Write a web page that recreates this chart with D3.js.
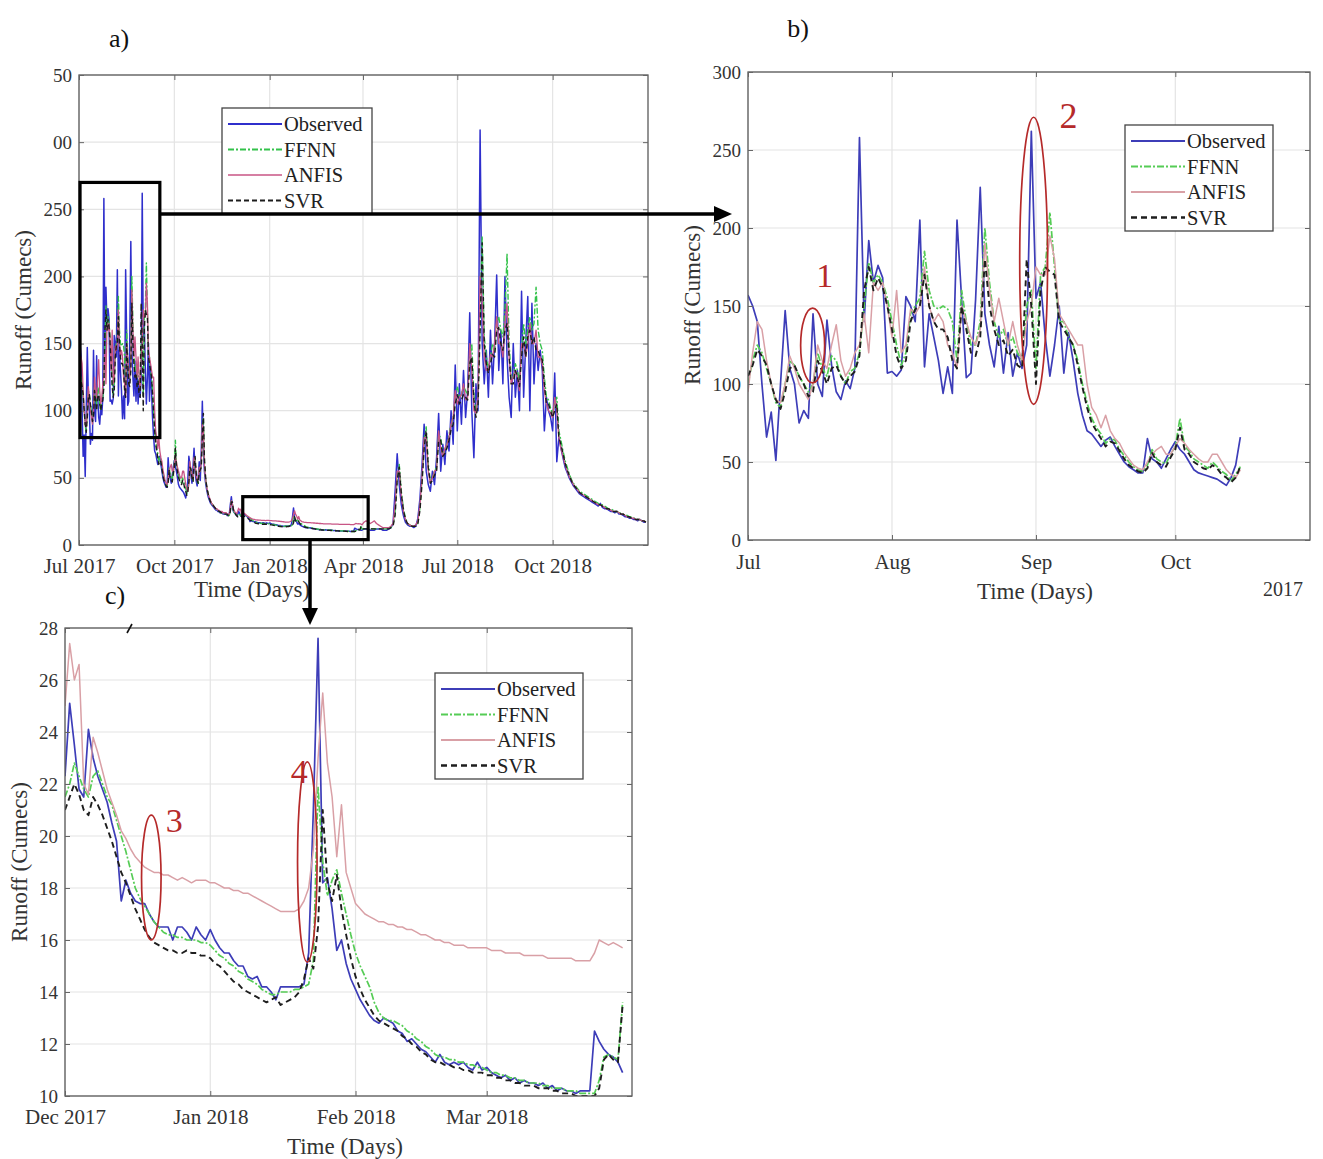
<!DOCTYPE html>
<html><head><meta charset="utf-8">
<script src="https://cdn.jsdelivr.net/npm/d3@7"></script>
<style>
body{margin:0;background:#fff}
svg{display:block}
text{font-family:"Liberation Serif","Times New Roman",serif}
</style>
</head><body>
<svg id="chart" width="1323" height="1159"></svg>
<script>
// ---------------- DATA ----------------
const seriesNames = ["Observed","FFNN","ANFIS","SVR"];

// Panel b: daily from 1 Jul 2017
const bObs = [157,150,140,100,66,82,51,100,147,110,100,75,83,78,145,100,92,141,112,95,90,102,97,110,258,140,192,165,176,168,107,108,105,109,156,150,140,205,111,145,130,115,94,111,94,205,154,104,107,154,226,145,125,111,137,107,133,105,120,110,125,262,155,165,130,105,125,150,107,133,115,94,80,70,68,64,60,64,66,60,55,50,47,45,43,43,65,52,50,46,52,58,63,58,55,50,45,43,42,41,40,39,37,35,40,48,66];
const bFFNN = [100,115,125,120,110,100,88,85,100,115,112,105,100,95,100,120,110,105,118,115,105,100,108,110,120,150,178,165,170,165,155,140,125,112,120,145,150,155,185,160,150,148,150,148,140,115,160,140,125,125,140,200,165,140,130,135,125,130,120,115,150,160,110,170,175,210,175,140,140,130,125,115,100,88,78,72,68,62,65,64,58,54,50,47,45,44,48,58,52,50,49,55,60,78,60,57,52,50,48,46,50,47,44,42,38,42,47];
const bANFIS = [95,120,140,135,115,100,90,88,100,118,110,100,95,90,100,125,115,110,125,138,115,105,110,120,125,145,120,165,160,165,150,130,160,120,125,148,145,150,175,150,140,145,140,125,120,110,150,140,130,125,135,190,160,140,155,140,125,140,125,115,140,150,175,170,170,195,180,145,140,135,130,125,125,100,85,80,72,80,70,65,62,56,52,48,46,45,50,55,58,60,55,55,60,65,62,58,55,52,50,50,55,55,50,45,42,40,45];
const bSVR = [105,112,122,118,112,100,90,84,95,110,112,105,100,92,95,115,108,100,110,112,105,100,105,108,118,160,175,160,168,162,150,135,118,110,115,140,148,150,170,150,140,135,135,130,115,110,150,135,120,118,130,180,150,135,125,128,118,122,112,110,180,150,100,160,175,172,170,140,135,130,125,112,98,85,75,70,65,60,63,62,57,52,48,46,44,43,46,56,50,48,47,53,58,72,58,55,50,48,46,45,48,46,42,40,37,40,47];

// Panel c: daily from 1 Dec 2017
const cObs = [22.3,25.1,23.5,21.8,21.5,24.1,23.0,22.3,21.8,21.3,20.5,19.8,17.5,18.3,17.8,17.5,17.4,17.4,17.0,16.7,16.5,16.5,16.5,16.0,16.5,16.5,16.3,16.0,16.5,16.2,16.0,16.4,16.0,15.7,15.5,15.5,15.2,15.0,15.0,14.6,14.5,14.6,14.2,14.2,14.0,13.7,14.2,14.2,14.2,14.2,14.2,14.3,15.5,21.0,27.6,18.2,18.4,17.2,15.6,16.0,15.1,14.5,14.1,13.7,13.4,13.1,12.9,12.8,13.0,12.9,12.8,12.5,12.4,12.1,12.2,12.0,11.8,11.7,11.5,11.3,11.6,11.3,11.2,11.3,11.2,11.3,11.1,11.0,11.3,11.0,11.1,10.9,10.8,10.7,10.8,10.6,10.7,10.5,10.6,10.5,10.5,10.4,10.5,10.3,10.4,10.2,10.3,10.2,10.2,10.1,10.2,10.2,10.2,12.5,12.1,11.8,11.6,11.5,11.3,10.9];
const cFFNN = [21.5,22.0,22.8,22.3,21.8,21.5,22.3,22.5,22.0,21.5,21.2,20.6,20.0,19.4,18.7,18.0,17.6,17.3,17.0,16.7,16.5,16.3,16.2,16.2,16.1,16.1,16.0,16.0,16.0,15.9,15.9,15.8,15.6,15.4,15.3,15.1,15.0,14.8,14.7,14.5,14.4,14.3,14.1,14.0,13.9,13.9,14.0,14.0,14.0,14.1,14.1,14.2,14.3,15.2,21.9,19.0,17.7,18.3,18.7,17.8,17.0,16.2,15.5,15.0,14.6,14.2,13.6,13.2,13.0,12.9,12.9,12.8,12.7,12.5,12.4,12.2,12.1,11.9,11.8,11.6,11.5,11.5,11.4,11.4,11.3,11.3,11.2,11.2,11.1,11.1,11.0,10.9,10.9,10.8,10.8,10.7,10.7,10.6,10.6,10.5,10.5,10.5,10.4,10.4,10.3,10.3,10.3,10.2,10.2,10.2,10.1,10.1,10.1,10.1,10.6,11.5,11.6,11.5,11.4,13.6];
const cANFIS = [25.0,27.4,26.0,26.6,22.0,21.6,23.8,23.2,22.5,21.8,21.3,20.8,20.2,19.9,19.5,19.2,19.0,18.8,18.7,18.6,18.6,18.5,18.5,18.4,18.3,18.4,18.3,18.2,18.3,18.3,18.3,18.2,18.2,18.1,18.0,18.0,17.9,17.9,17.8,17.8,17.7,17.6,17.5,17.4,17.3,17.2,17.1,17.1,17.1,17.1,17.2,17.5,18.0,19.5,23.0,25.5,22.8,21.5,19.2,21.2,18.6,18.0,17.4,17.2,17.0,16.9,16.8,16.7,16.7,16.6,16.6,16.5,16.5,16.4,16.4,16.3,16.2,16.2,16.1,16.0,16.0,15.9,15.9,15.8,15.8,15.8,15.7,15.7,15.7,15.7,15.7,15.6,15.6,15.6,15.5,15.5,15.5,15.5,15.4,15.4,15.4,15.4,15.4,15.3,15.3,15.3,15.3,15.3,15.3,15.2,15.2,15.2,15.2,15.5,16.0,15.9,15.8,15.9,15.8,15.7];
const cSVR = [21.0,21.5,22.0,21.6,21.0,20.8,21.5,21.2,20.8,20.3,19.8,19.2,18.6,18.2,17.7,17.2,16.8,16.4,16.1,15.9,15.8,15.7,15.6,15.6,15.5,15.5,15.6,15.5,15.5,15.4,15.4,15.3,15.1,15.0,14.8,14.6,14.4,14.3,14.1,14.0,13.9,13.8,13.7,13.6,13.7,13.8,13.5,13.6,13.7,13.8,14.0,14.5,15.3,14.9,16.5,21.0,18.2,17.5,18.5,17.2,16.2,15.3,14.6,14.1,13.7,13.4,13.1,12.9,12.8,12.7,12.6,12.5,12.3,12.2,12.0,11.9,11.7,11.6,11.4,11.3,11.3,11.2,11.2,11.1,11.1,11.0,11.0,10.9,10.9,10.9,10.8,10.8,10.7,10.7,10.6,10.6,10.5,10.5,10.4,10.4,10.4,10.3,10.3,10.3,10.2,10.2,10.1,10.1,10.1,10.0,10.0,10.0,10.0,10.0,10.3,11.4,11.6,11.4,11.3,13.5];

// Panel a extra segment 1: daily from 16 Oct 2017 to 30 Nov 2017
const aObs1 = [60,52,46,58,72,55,48,44,50,62,48,70,107,72,55,47,42,38,35,33,31,30,29,28,27,26,26,25,25,24,24,24,23,23,23,23,22,22,23,30,36,28,25,24,23,22];
const aFFNN1 = [55,58,50,48,62,65,52,47,46,56,55,60,88,95,62,50,44,40,37,34,32,31,30,29,28,27,26,26,25,25,24,24,24,23,23,23,23,22,22,26,33,31,26,24,23,23];
const aANFIS1 = [62,56,50,50,65,62,52,48,48,58,55,62,90,85,60,50,45,40,37,35,33,31,30,29,28,27,27,26,26,25,25,25,24,24,24,24,23,23,23,27,33,30,27,25,24,23];
const aSVR1 = [58,56,50,47,60,66,54,48,46,54,56,58,80,98,65,52,45,40,37,34,32,31,30,29,28,27,26,26,25,25,24,24,24,23,23,23,23,22,22,25,32,32,26,24,23,22];

// Panel a extra segment 2: every 2nd day from 31 Mar 2018
const aObs2 = [11,12,12,12,11,11,11,12,12,12,11,11,11,12,13,16,40,68,45,30,22,17,15,14,14,13,14,20,35,60,90,55,45,40,55,45,65,98,55,75,60,85,70,100,75,134,85,120,90,130,95,115,173,100,65,120,100,309,150,120,145,110,160,120,150,201,130,160,120,200,140,110,95,150,110,130,100,189,110,150,185,100,180,120,150,130,145,130,85,110,100,95,85,128,62,80,72,65,58,54,50,47,44,42,40,38,37,36,35,34,33,32,31,30,29,31,28,27,27,26,25,25,24,25,23,23,22,21,21,20,20,19,19,18,19,18,17,17];
const aFFNN2 = [12,12,12,12,12,12,12,12,12,12,12,12,12,13,13,15,25,50,60,40,27,20,16,15,14,14,14,17,28,50,78,88,60,48,50,55,58,82,80,68,70,75,82,90,95,112,118,110,112,118,115,112,140,150,112,98,108,165,230,155,140,132,140,150,145,165,170,160,155,175,217,150,125,125,135,130,122,145,165,150,160,170,160,165,192,160,150,145,125,110,108,102,98,105,110,85,78,70,63,58,53,49,46,44,42,40,39,38,37,36,35,34,33,32,31,30,30,29,28,27,27,26,25,25,24,24,23,22,22,21,21,20,20,19,19,18,18,17];
const aANFIS2 = [15,17,18,17,16,17,18,16,15,14,13,13,13,13,14,16,30,55,55,36,25,19,16,15,14,14,15,18,30,52,80,80,55,46,50,55,56,85,72,66,72,75,80,90,95,115,105,110,112,120,108,110,150,130,100,98,110,200,180,140,130,130,142,140,150,170,150,150,140,165,180,140,120,125,130,125,115,150,150,140,150,165,150,150,160,140,140,135,115,105,100,98,95,110,100,80,72,66,60,55,51,48,45,43,41,39,38,37,36,35,34,33,32,31,30,30,29,28,27,27,26,25,25,25,24,23,23,22,21,21,20,20,19,19,19,18,18,17];
const aSVR2 = [12,12,12,12,12,12,12,12,12,12,12,12,12,12,13,14,22,48,58,38,26,19,16,15,14,14,14,16,26,46,72,85,58,46,48,52,55,78,78,66,68,72,78,86,90,105,112,105,108,112,110,108,135,140,108,95,104,160,225,150,135,128,135,142,140,160,162,150,145,160,165,140,120,120,130,125,118,140,155,140,155,160,150,155,145,145,140,138,120,105,105,100,95,100,105,80,75,68,61,56,52,48,45,43,41,39,38,37,36,35,34,33,32,31,30,30,29,28,27,27,26,25,25,25,24,23,23,22,21,21,20,20,19,19,19,18,18,17];

// Tick labels
const aYTicks = [0,50,100,150,200,250,300,350];
const aYTickLabels = ["0","50","100","150","200","250","00","50"];
const aXTickLabels = ["Jul 2017","Oct 2017","Jan 2018","Apr 2018","Jul 2018","Oct 2018"];
const bYTicks = [0,50,100,150,200,250,300];
const bYTickLabels = ["0","50","100","150","200","250","300"];
const bXTickLabels = ["Jul","Aug","Sep","Oct"];
const cYTicks = [10,12,14,16,18,20,22,24,26,28];
const cYTickLabels = ["10","12","14","16","18","20","22","24","26","28"];
const cXTickLabels = ["Dec 2017","Jan 2018","Feb 2018","Mar 2018"];

// ---------------- HELPERS ----------------
const D = (y,m,d) => new Date(Date.UTC(y,m-1,d));
const seg = (vals, start, step) => vals.map((v,i)=>({t:d3.utcDay.offset(start,i*step), v}));
const bStart = D(2017,7,1), a1Start = D(2017,10,16), cStart = D(2017,12,1), a2Start = D(2018,3,31);

const panelAData = {
  Observed: [...seg(bObs,bStart,1),...seg(aObs1,a1Start,1),...seg(cObs,cStart,1),...seg(aObs2,a2Start,2)],
  FFNN: [...seg(bFFNN,bStart,1),...seg(aFFNN1,a1Start,1),...seg(cFFNN,cStart,1),...seg(aFFNN2,a2Start,2)],
  ANFIS: [...seg(bANFIS,bStart,1),...seg(aANFIS1,a1Start,1),...seg(cANFIS,cStart,1),...seg(aANFIS2,a2Start,2)],
  SVR: [...seg(bSVR,bStart,1),...seg(aSVR1,a1Start,1),...seg(cSVR,cStart,1),...seg(aSVR2,a2Start,2)]
};
const panelBData = {Observed:seg(bObs,bStart,1),FFNN:seg(bFFNN,bStart,1),ANFIS:seg(bANFIS,bStart,1),SVR:seg(bSVR,bStart,1)};
const panelCData = {Observed:seg(cObs,cStart,1),FFNN:seg(cFFNN,cStart,1),ANFIS:seg(cANFIS,cStart,1),SVR:seg(cSVR,cStart,1)};

const styleA = {
  Observed:{stroke:"#2f2fcc",w:1.5,dash:null},
  FFNN:{stroke:"#33c24a",w:1.4,dash:"6,2,2,2"},
  ANFIS:{stroke:"#c85585",w:1.3,dash:null},
  SVR:{stroke:"#1c1c1c",w:1.4,dash:"5,3"}
};
const styleBC = {
  Observed:{stroke:"#3d3db8",w:1.7,dash:null},
  FFNN:{stroke:"#55cc55",w:1.7,dash:"7,2,2,2"},
  ANFIS:{stroke:"#d9a0a6",w:1.5,dash:null},
  SVR:{stroke:"#1e1e1e",w:1.9,dash:"6,4"}
};

const svg = d3.select("#chart");
const FONT = '"Liberation Serif","Times New Roman",serif';
const TXT = "#333";

function drawPanel(cfg){
  const g = svg.append("g");
  const x = d3.scaleUtc().domain(cfg.xDomain).range([cfg.left,cfg.right]);
  const y = d3.scaleLinear().domain(cfg.yDomain).range([cfg.bottom,cfg.top]);
  g.append("g").selectAll("line").data(cfg.yTicks).join("line")
    .attr("x1",cfg.left).attr("x2",cfg.right).attr("y1",d=>y(d)).attr("y2",d=>y(d))
    .attr("stroke","#e4e4e4").attr("stroke-width",1.2);
  g.append("g").selectAll("line").data(cfg.xTicks).join("line")
    .attr("y1",cfg.top).attr("y2",cfg.bottom).attr("x1",d=>x(d)).attr("x2",d=>x(d))
    .attr("stroke","#e4e4e4").attr("stroke-width",1.2);
  const cid = "clip-"+cfg.id;
  svg.append("clipPath").attr("id",cid).append("rect")
    .attr("x",cfg.left).attr("y",cfg.top).attr("width",cfg.right-cfg.left).attr("height",cfg.bottom-cfg.top);
  const line = d3.line().x(d=>x(d.t)).y(d=>y(d.v));
  const lg = g.append("g").attr("clip-path",`url(#${cid})`);
  seriesNames.forEach(n=>{
    const s = cfg.style[n];
    lg.append("path").datum(cfg.data[n]).attr("d",line).attr("fill","none")
      .attr("stroke",s.stroke).attr("stroke-width",s.w)
      .attr("stroke-dasharray",s.dash).attr("stroke-linejoin","round");
  });
  g.append("rect").attr("x",cfg.left).attr("y",cfg.top)
    .attr("width",cfg.right-cfg.left).attr("height",cfg.bottom-cfg.top)
    .attr("fill","none").attr("stroke","#5a5a5a").attr("stroke-width",1.3);
  const styleAxis = (size) => s => {
    s.select(".domain").remove();
    s.selectAll("line").attr("stroke","#666");
    s.selectAll("text").attr("font-family",FONT).attr("font-size",size).attr("fill",TXT);
  };
  g.append("g").attr("transform",`translate(${cfg.left},0)`)
    .call(d3.axisLeft(y).tickValues(cfg.yTicks).tickFormat((d,i)=>cfg.yLabels[i]).tickSizeInner(-5).tickSizeOuter(0).tickPadding(7))
    .call(styleAxis(19));
  g.append("g").attr("transform",`translate(${cfg.right},0)`)
    .call(d3.axisRight(y).tickValues(cfg.yTicks).tickFormat("").tickSizeInner(-5).tickSizeOuter(0))
    .call(styleAxis(19));
  g.append("g").attr("transform",`translate(0,${cfg.bottom})`)
    .call(d3.axisBottom(x).tickValues(cfg.xTicks).tickFormat((d,i)=>cfg.xLabels[i]).tickSizeInner(-5).tickSizeOuter(0).tickPadding(cfg.xPad))
    .call(styleAxis(21));
  g.append("g").attr("transform",`translate(0,${cfg.top})`)
    .call(d3.axisTop(x).tickValues(cfg.xTicks).tickFormat("").tickSizeInner(-5).tickSizeOuter(0))
    .call(styleAxis(19));
  g.append("text").attr("x",cfg.xTitle[0]).attr("y",cfg.xTitle[1]).attr("dy","0.35em")
    .attr("text-anchor","middle").attr("font-size",23).attr("fill",TXT).text("Time (Days)");
  g.append("text").attr("transform",`translate(${cfg.yTitle[0]},${cfg.yTitle[1]}) rotate(-90)`).attr("dy","0.35em")
    .attr("text-anchor","middle").attr("font-size",23).attr("fill",TXT).text("Runoff (Cumecs)");
  const L = cfg.legend;
  const leg = g.append("g");
  leg.append("rect").attr("x",L.x).attr("y",L.y).attr("width",L.w).attr("height",L.h)
    .attr("fill","#fff").attr("stroke","#444").attr("stroke-width",1.3);
  seriesNames.forEach((n,i)=>{
    const s = cfg.style[n], yy = L.y + 16 + i*25.5;
    leg.append("line").attr("x1",L.x+6).attr("x2",L.x+60).attr("y1",yy).attr("y2",yy)
      .attr("stroke",s.stroke).attr("stroke-width",s.w+0.4).attr("stroke-dasharray",s.dash);
    leg.append("text").attr("x",L.x+62).attr("y",yy).attr("dy","0.35em")
      .attr("font-size",20.5).attr("fill","#222").text(n);
  });
  svg.append("text").attr("x",cfg.letter[0]).attr("y",cfg.letter[1]).attr("dy","0.35em")
    .attr("text-anchor","middle").attr("font-size",26).attr("fill","#111").text(cfg.id+")");
  return {x,y,g};
}

// ---------------- PANELS ----------------
const A = drawPanel({
  id:"a", left:79, right:648, top:75, bottom:545,
  xDomain:[D(2017,7,1),D(2019,1,1)], yDomain:[0,350],
  xTicks:[D(2017,7,1),D(2017,10,1),D(2018,1,1),D(2018,4,1),D(2018,7,1),D(2018,10,1)],
  xLabels:aXTickLabels, yTicks:aYTicks, yLabels:aYTickLabels, xPad:13,
  data:panelAData, style:styleA,
  xTitle:[252,589], yTitle:[23,310],
  legend:{x:222,y:108,w:150,h:106}, letter:[119,38]
});
const B = drawPanel({
  id:"b", left:748, right:1310, top:72, bottom:540,
  xDomain:[D(2017,7,1),D(2017,10,30)], yDomain:[0,300],
  xTicks:[D(2017,7,1),D(2017,8,1),D(2017,9,1),D(2017,10,1)],
  xLabels:bXTickLabels, yTicks:bYTicks, yLabels:bYTickLabels, xPad:14,
  data:panelBData, style:styleBC,
  xTitle:[1035,591], yTitle:[692,305],
  legend:{x:1125,y:125,w:148,h:106}, letter:[798,28]
});
svg.append("text").attr("x",1283).attr("y",589).attr("dy","0.35em").attr("text-anchor","middle")
  .attr("font-size",20).attr("fill",TXT).text("2017");
const C = drawPanel({
  id:"c", left:65, right:632, top:628, bottom:1096,
  xDomain:[D(2017,12,1),D(2018,4,1)], yDomain:[10,28],
  xTicks:[D(2017,12,1),D(2018,1,1),D(2018,2,1),D(2018,3,1)],
  xLabels:cXTickLabels, yTicks:cYTicks, yLabels:cYTickLabels, xPad:13,
  data:panelCData, style:styleBC,
  xTitle:[345,1146], yTitle:[19,862],
  legend:{x:435,y:673,w:148,h:106}, letter:[115,595]
});

// ---------------- ANNOTATIONS ----------------
const red = "#b52a2a";
function ellipse(P, start, day, val, rxDays, ryVal){
  const cx = P.x(d3.utcHour.offset(start, Math.round(day*24)));
  const rx = P.x(d3.utcHour.offset(start, Math.round((day+rxDays)*24))) - cx;
  const cy = P.y(val), ry = P.y(val-ryVal) - cy;
  svg.append("ellipse").attr("cx",cx).attr("cy",cy).attr("rx",rx).attr("ry",ry)
    .attr("fill","none").attr("stroke",red).attr("stroke-width",1.7);
}
function mark(P, start, day, val, t, size){
  svg.append("text").attr("x",P.x(d3.utcHour.offset(start, Math.round(day*24)))).attr("y",P.y(val))
    .attr("dy","0.35em").attr("text-anchor","middle").attr("font-size",size).attr("fill",red).text(t);
}
ellipse(B, bStart, 13.9, 124.7, 2.6, 24);
mark(B, bStart, 16.5, 170, "1", 34);
ellipse(B, bStart, 61.5, 179, 3.0, 92);
mark(B, bStart, 69, 272, "2", 36);
ellipse(C, cStart, 18.4, 18.4, 2.1, 2.4);
mark(C, cStart, 23.3, 20.6, "3", 34);
ellipse(C, cStart, 51.7, 19.0, 2.1, 3.85);
mark(C, cStart, 50.0, 22.5, "4", 34);

function box(P, t0, t1, lo, hi){
  svg.append("rect").attr("x",P.x(t0)).attr("y",P.y(hi))
    .attr("width",P.x(t1)-P.x(t0)).attr("height",P.y(lo)-P.y(hi))
    .attr("fill","none").attr("stroke","#000").attr("stroke-width",3.2);
}
box(A, D(2017,7,2), D(2017,9,17), 80, 270);
box(A, D(2017,12,6), D(2018,4,6), 4, 36);

svg.append("line").attr("x1",160).attr("x2",718).attr("y1",214).attr("y2",214)
  .attr("stroke","#000").attr("stroke-width",3.5);
svg.append("path").attr("d","M732,214 L714,206 L714,222 Z").attr("fill","#000");
svg.append("line").attr("x1",310).attr("x2",310).attr("y1",540).attr("y2",610)
  .attr("stroke","#000").attr("stroke-width",3.5);
svg.append("path").attr("d","M310,625 L302,608 L318,608 Z").attr("fill","#000");
svg.append("line").attr("x1",127).attr("y1",633).attr("x2",132).attr("y2",624)
  .attr("stroke","#111").attr("stroke-width",1.6);
</script>
</body></html>
